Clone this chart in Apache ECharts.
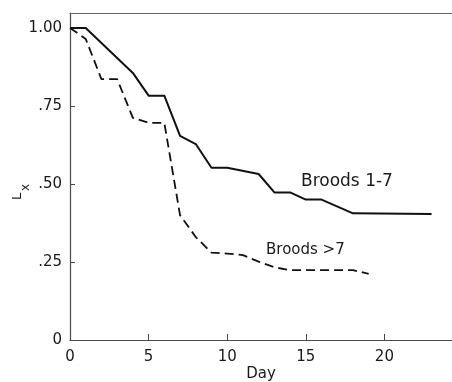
<!DOCTYPE html>
<html>
<head>
<meta charset="utf-8">
<script src="https://cdn.jsdelivr.net/npm/echarts@6/dist/echarts.min.js"></script>
<style>
  html, body { margin: 0; padding: 0; background: #fff; }
  #chart { width: 452px; height: 382px; }
</style>
</head>
<body>
<div id="chart"></div>
<script>
// Survivorship Lx by day
const earlyDays = [0, 1, 4, 5, 6, 7, 8, 9, 10, 12, 13, 14, 15, 16, 18, 23];
const earlyLx = [1.0, 1.0, 0.856, 0.783, 0.783, 0.654, 0.628, 0.552, 0.552, 0.532, 0.473, 0.473, 0.45, 0.45, 0.406, 0.404];

const lateDays = [0, 1, 2, 3, 4, 5, 6, 7, 8, 9, 10, 11, 12, 13, 14, 18, 19];
const lateLx = [1.0, 0.965, 0.836, 0.836, 0.712, 0.696, 0.696, 0.40, 0.33, 0.28, 0.277, 0.272, 0.251, 0.233, 0.224, 0.224, 0.212];

const xTicks = [0, 5, 10, 15, 20];
const yTicks = [0, 0.25, 0.5, 0.75, 1];
const yTickLabels = ['0', '.25', '.50', '.75', '1.00'];

const FONT = '"DejaVu Sans", sans-serif';
const INK = '#1a1a1a';

const chart = echarts.init(document.getElementById('chart'));

const pairs = (xs, ys) => xs.map((x, i) => [x, ys[i]]);

chart.setOption({
  animation: false,
  backgroundColor: '#fff',
  grid: { left: 70, right: 0, top: 13, bottom: 42, outerBoundsMode: 'none', containLabel: false },
  xAxis: [
    {
      type: 'value',
      min: 0,
      max: 24.3,
      interval: 5,
      name: 'Day',
      nameLocation: 'middle',
      nameGap: 27,
      nameMoveOverlap: false,
      nameTextStyle: { fontFamily: FONT, fontSize: 15, color: INK },
      axisLine: { lineStyle: { color: '#4a4a4a', width: 1.2 } },
      axisTick: { inside: true, length: 6, customValues: xTicks, lineStyle: { color: '#4a4a4a' } },
      axisLabel: {
        margin: 10,
        fontFamily: FONT,
        fontSize: 15,
        color: INK,
        customValues: xTicks,
        formatter: v => (xTicks.includes(v) ? String(v) : '')
      },
      splitLine: { show: false }
    },
    {
      type: 'value',
      position: 'top',
      min: 0,
      max: 24.3,
      axisLine: { show: true, lineStyle: { color: '#666', width: 1.2 } },
      axisTick: { show: false },
      axisLabel: { show: false },
      splitLine: { show: false }
    }
  ],
  yAxis: {
    type: 'value',
    min: 0,
    max: 1.048,
    interval: 0.25,
    axisLine: { show: true, lineStyle: { color: '#4a4a4a', width: 1.2 } },
    axisTick: { show: true, inside: true, length: 5, customValues: yTicks, lineStyle: { color: '#4a4a4a' } },
    axisLabel: {
      margin: 8,
      fontFamily: FONT,
      fontSize: 15,
      color: INK,
      customValues: yTicks,
      formatter: v => {
        const i = yTicks.indexOf(v);
        return i >= 0 ? yTickLabels[i] : '';
      }
    },
    splitLine: { show: false }
  },
  series: [
    {
      name: 'Broods 1-7',
      type: 'line',
      data: pairs(earlyDays, earlyLx),
      symbol: 'none',
      lineStyle: { color: '#111', width: 2 }
    },
    {
      name: 'Broods >7',
      type: 'line',
      data: pairs(lateDays, lateLx),
      symbol: 'none',
      lineStyle: { color: '#111', width: 1.8, type: [9, 5] }
    }
  ],
  graphic: [
    // rotated y-axis name "Lx"
    {
      type: 'text', x: 24, y: 200, rotation: Math.PI / 2,
      style: { text: 'L', font: '13px ' + FONT, fill: INK, textAlign: 'left', textVerticalAlign: 'bottom' }
    },
    {
      type: 'text', x: 32, y: 191, rotation: Math.PI / 2,
      style: { text: 'x', font: '12px ' + FONT, fill: INK, textAlign: 'left', textVerticalAlign: 'bottom' }
    },
    {
      type: 'text', x: 301, y: 182,
      style: { text: 'Broods 1-7', font: '17px ' + FONT, fill: INK, textAlign: 'left', textVerticalAlign: 'middle' }
    },
    {
      type: 'text', x: 266, y: 250,
      style: { text: 'Broods >7', font: '15px ' + FONT, fill: INK, textAlign: 'left', textVerticalAlign: 'middle' }
    }
  ]
});
</script>
</body>
</html>
